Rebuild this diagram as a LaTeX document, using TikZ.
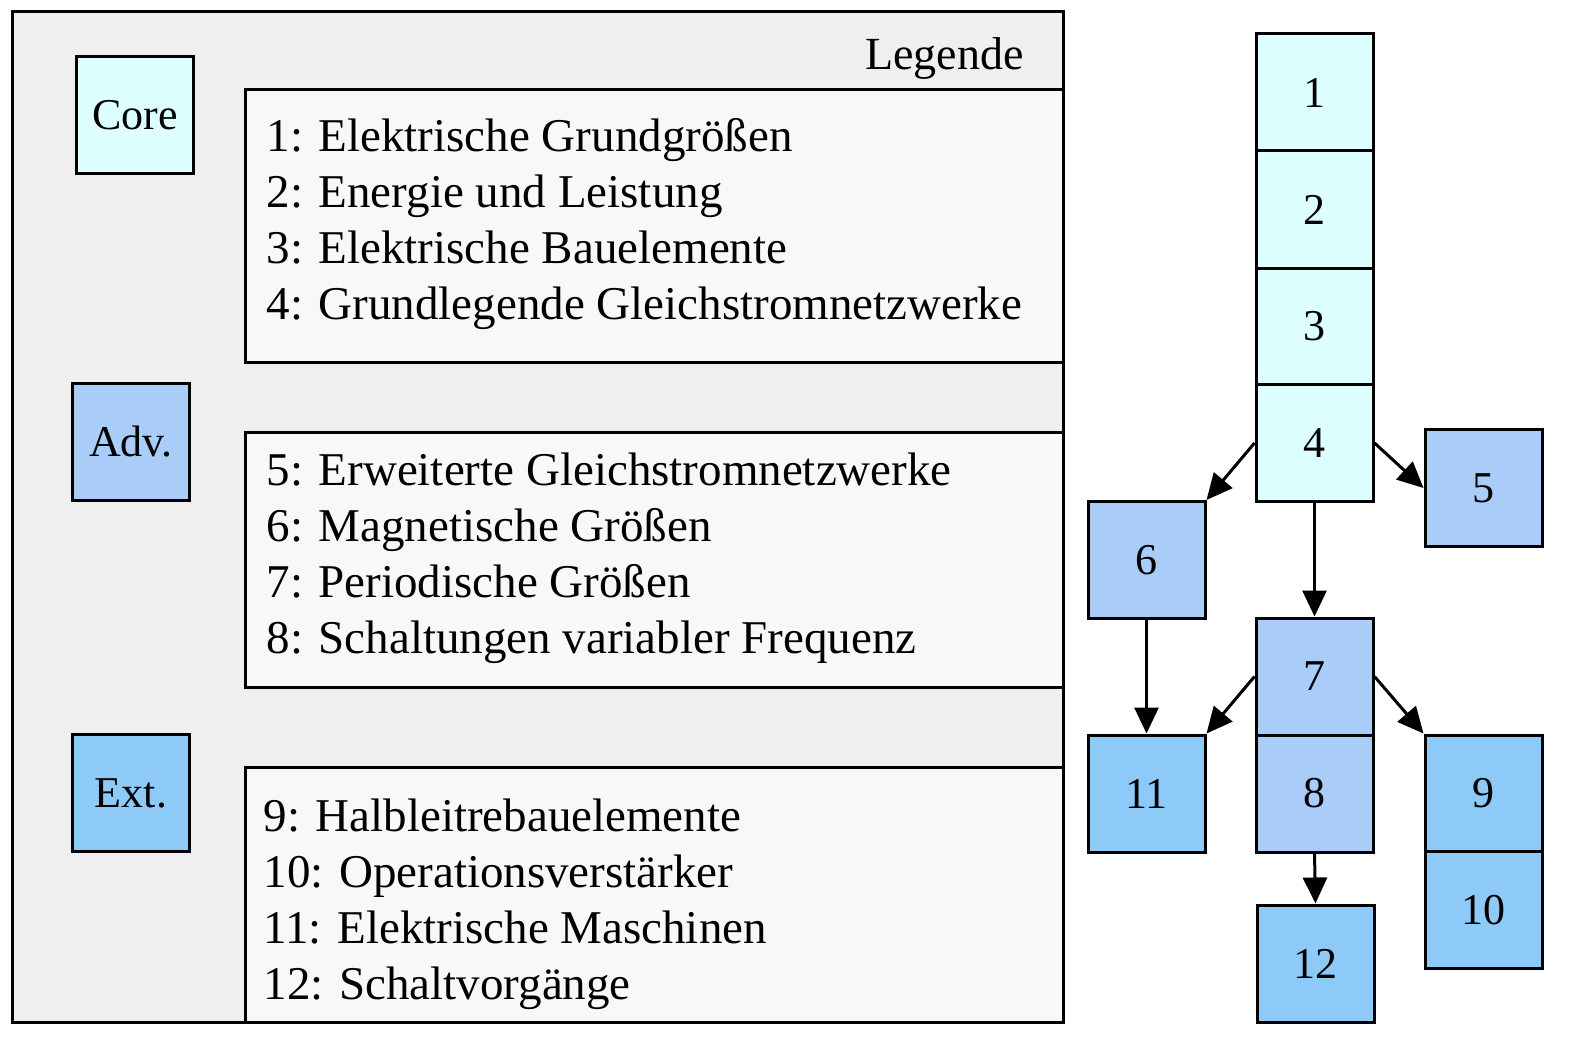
\documentclass[tikz,border=0pt]{standalone}
\usepackage{fontspec}
\setmainfont{Liberation Serif}
\usetikzlibrary{arrows.meta}
\definecolor{core}{HTML}{DDFFFF}
\definecolor{adv}{HTML}{AACCF8}
\definecolor{ext}{HTML}{8ECAF8}
\definecolor{lg}{HTML}{EFEFEF}
\definecolor{wb}{HTML}{F8F8F8}
\begin{document}
\begin{tikzpicture}[x=1pt,y=-1pt,line width=3pt,
  box/.style={draw,minimum width=117pt,minimum height=117pt,inner sep=0pt,font=\fontsize{44}{46}\selectfont},
  lst/.style={draw,fill=wb},
  txt/.style={anchor=north west,align=left,inner sep=0pt,font=\fontsize{47}{56}\selectfont},
  arr/.style={-{Triangle[length=26pt,width=24pt]},line width=3pt}]
\useasboundingbox (0,0) rectangle (1584,1043);
\draw[fill=lg] (12,12) rectangle (1063,1022);
\node[anchor=base east,inner sep=0pt,font=\fontsize{46}{46}\selectfont] (leg) at (1025,70) {Legende};
\draw[lst] (245,90) rectangle (1063,362);
\draw[lst] (245,432) rectangle (1063,687);
\draw[lst] (245,767) rectangle (1063,1022);
\node[txt] (t1) at (265,117) {1: Elektrische Grundgrößen\\2: Energie und Leistung\\3: Elektrische Bauelemente\\4: Grundlegende Gleichstromnetzwerke};
\node[txt] (t2) at (265,451) {5: Erweiterte Gleichstromnetzwerke\\6: Magnetische Größen\\7: Periodische Größen\\8: Schaltungen variabler Frequenz};
\node[txt] (t3) at (262,797) {9: Halbleitrebauelemente\\10: Operationsverstärker\\11: Elektrische Maschinen\\12: Schaltvorgänge};
\node[box,fill=core] (kc) at (135,115) {Core};
\node[box,fill=adv] (ka) at (131,442) {Adv.};
\node[box,fill=ext] (ke) at (131,793) {Ext.};
\node[box,fill=core] (n1) at (1314.5,92.5) {1};
\node[box,fill=core] (n2) at (1314.5,209.5) {2};
\node[box,fill=core] (n3) at (1314.5,326.5) {3};
\node[box,fill=core] (n4) at (1314.5,443) {4};
\node[box,fill=adv] (n5) at (1483.5,488) {5};
\node[box,fill=adv] (n6) at (1146.5,560) {6};
\node[box,fill=adv] (n7) at (1314.5,676.5) {7};
\node[box,fill=adv] (n8) at (1314.5,793.5) {8};
\node[box,fill=ext] (n11) at (1146.5,793.5) {11};
\node[box,fill=ext] (n9) at (1483.5,793.5) {9};
\node[box,fill=ext] (n10) at (1483.5,910) {10};
\node[box,fill=ext] (n12) at (1315.5,963.5) {12};
\draw[arr] (n4.west) -- (n6.north east);
\draw[arr] (n4.east) -- (n5.west);
\draw[arr] (n4.south) -- (n7.north);
\draw[arr] (n6.south) -- (n11.north);
\draw[arr] (n7.west) -- (n11.north east);
\draw[arr] (n7.east) -- (n9.north west);
\draw[arr] (n8.south) -- (n12.north);
\end{tikzpicture}
\end{document}
